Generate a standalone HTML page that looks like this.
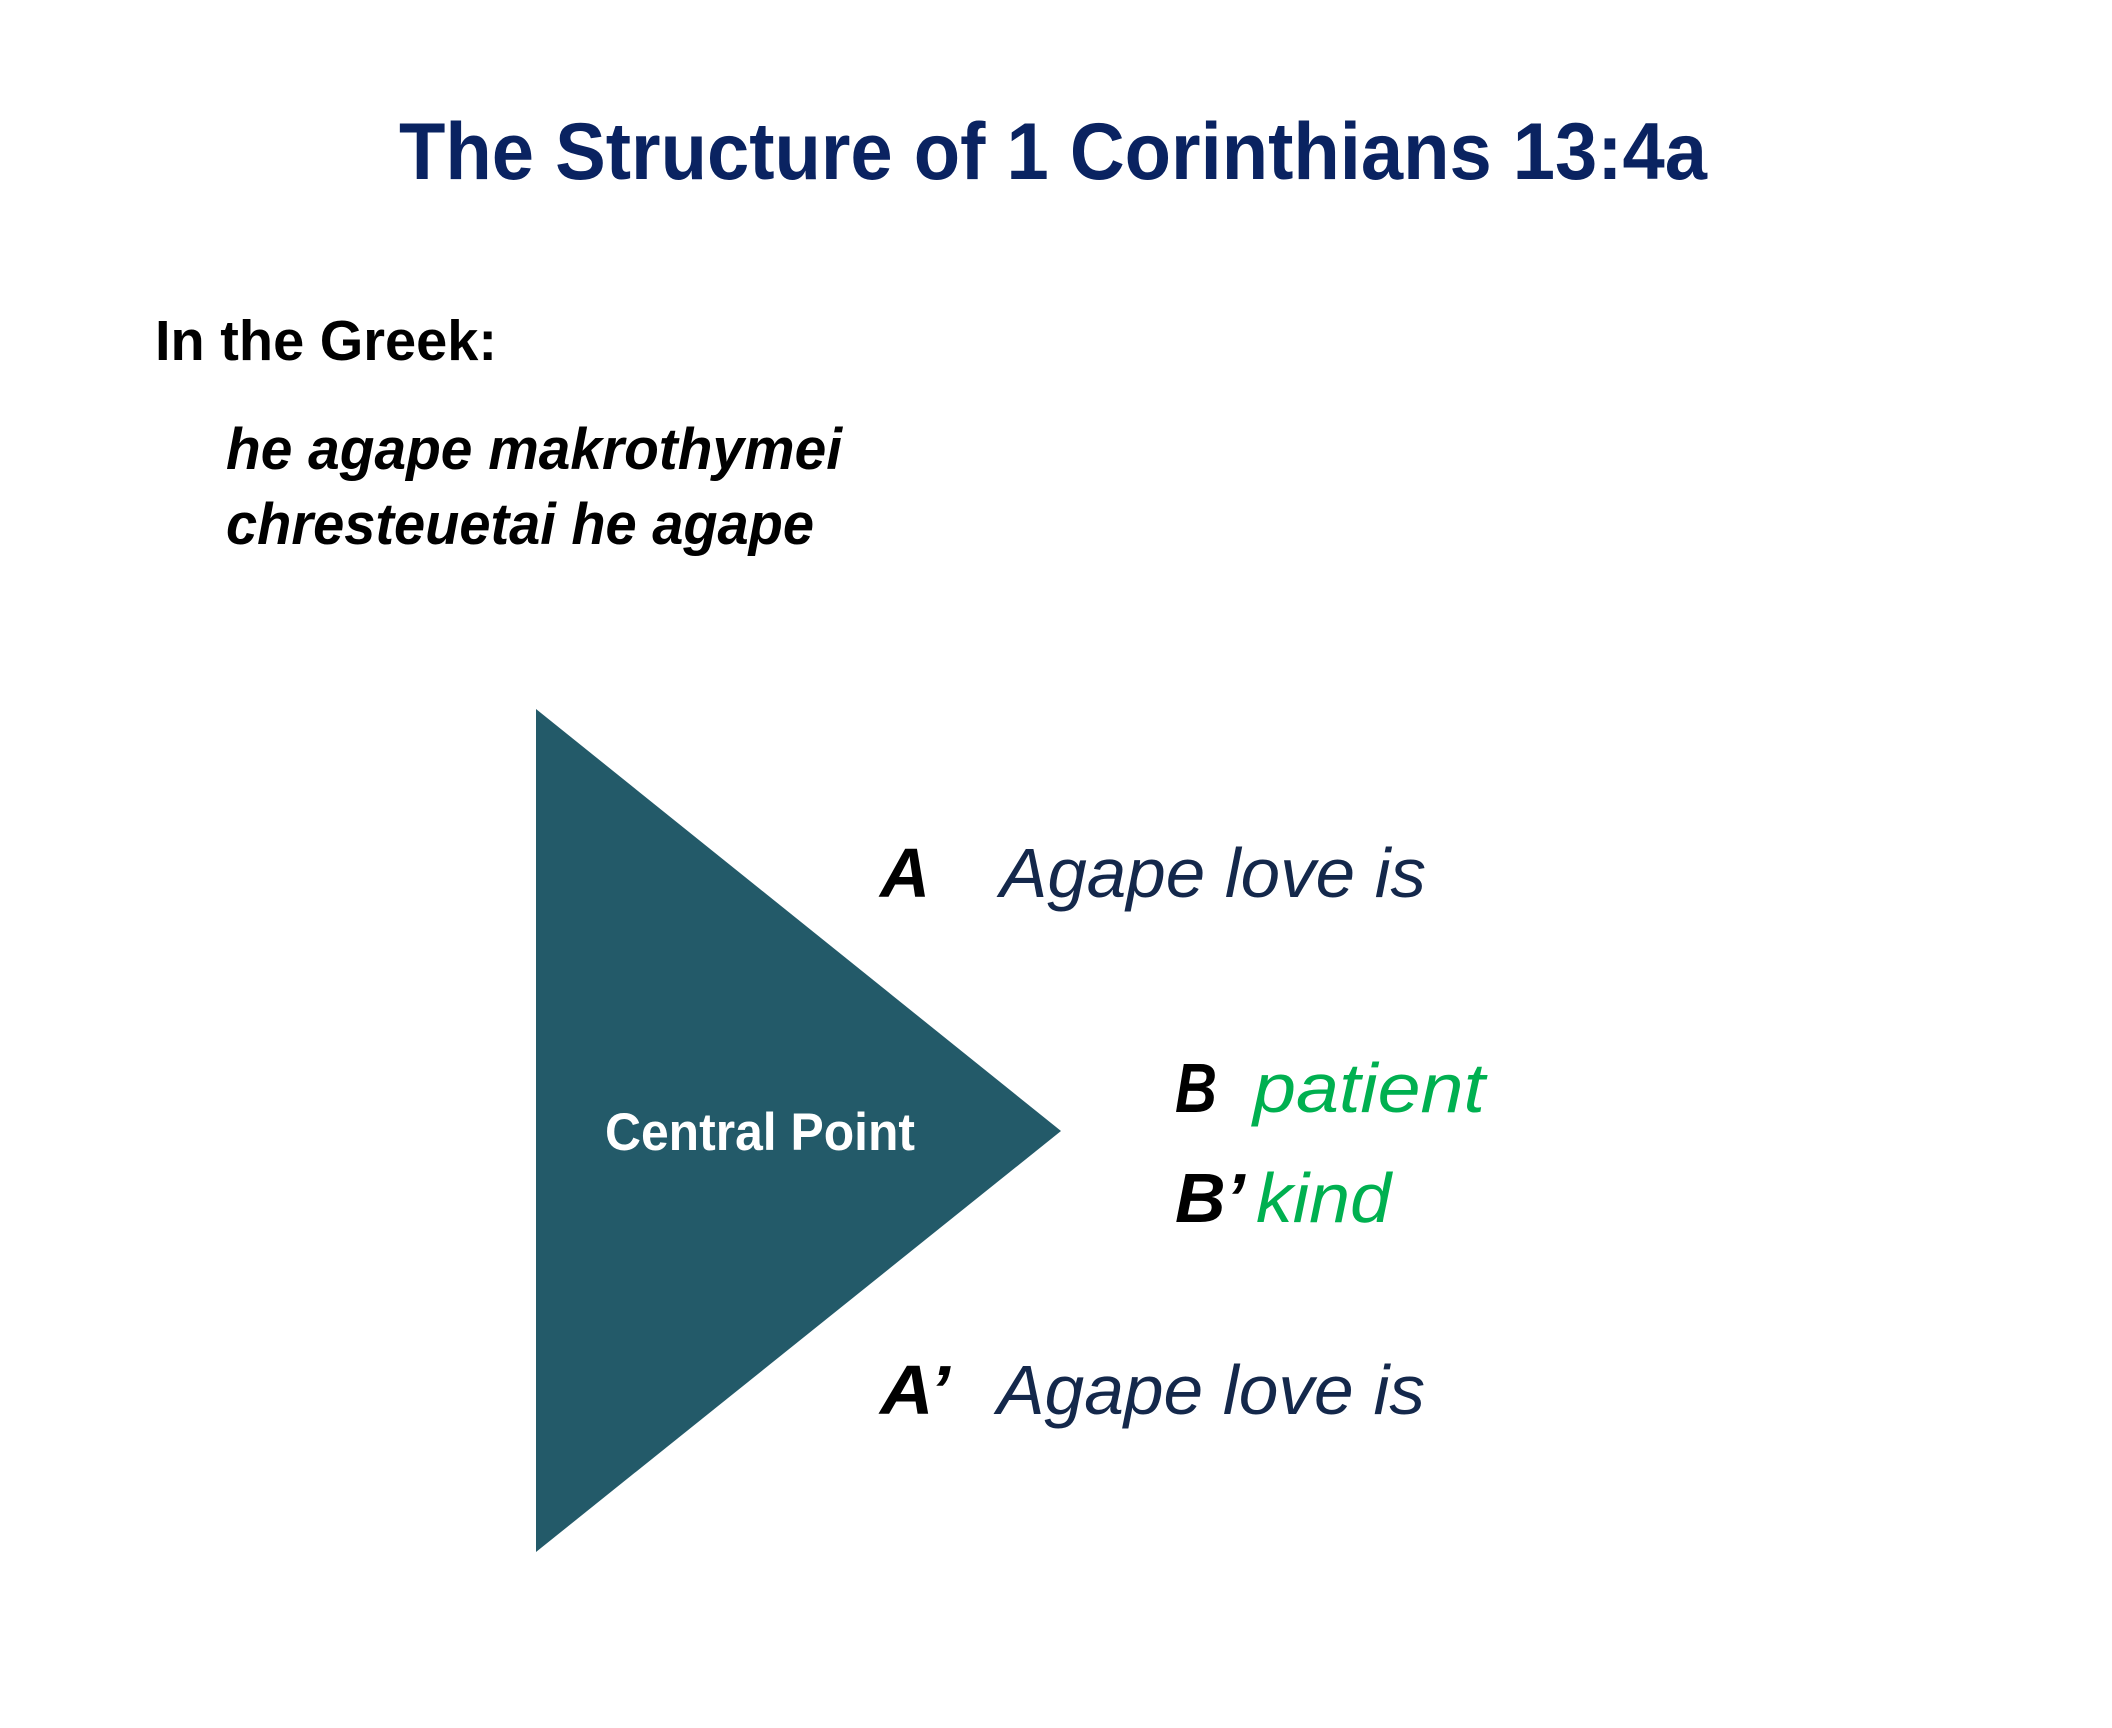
<!DOCTYPE html>
<html>
<head>
<meta charset="utf-8">
<style>
  html, body { margin: 0; padding: 0; background: #ffffff; }
  body { width: 2112px; height: 1728px; overflow: hidden; }
  svg { display: block; }
  text { font-family: "Liberation Sans", "DejaVu Sans", sans-serif; }
</style>
</head>
<body>
<svg width="2112" height="1728" viewBox="0 0 2112 1728" xmlns="http://www.w3.org/2000/svg">
  <rect x="0" y="0" width="2112" height="1728" fill="#ffffff"/>

  <!-- Title -->
  <text x="399" y="179" font-size="81" font-weight="bold" fill="#0A2361" textLength="1308" lengthAdjust="spacingAndGlyphs">The Structure of 1 Corinthians 13:4a</text>

  <!-- In the Greek -->
  <text x="155" y="360" font-size="57" font-weight="bold" fill="#000000" textLength="342" lengthAdjust="spacingAndGlyphs">In the Greek:</text>
  <text x="226" y="469" font-size="58" font-weight="bold" font-style="italic" fill="#000000" textLength="616" lengthAdjust="spacingAndGlyphs">he agape makrothymei</text>
  <text x="226" y="544" font-size="58" font-weight="bold" font-style="italic" fill="#000000" textLength="588" lengthAdjust="spacingAndGlyphs">chresteuetai he agape</text>

  <!-- Triangle -->
  <polygon points="536,709 1061,1131 536,1552" fill="#235A69"/>
  <text x="605" y="1150" font-size="53" font-weight="bold" fill="#ffffff" textLength="310" lengthAdjust="spacingAndGlyphs">Central Point</text>

  <!-- A row -->
  <text x="880" y="897" font-size="70" font-weight="bold" font-style="italic" fill="#000000" textLength="50" lengthAdjust="spacingAndGlyphs">A</text>
  <text x="1000" y="897" font-size="70" font-style="italic" fill="#14284B" textLength="426" lengthAdjust="spacingAndGlyphs">Agape love is</text>

  <!-- B row -->
  <text x="1175" y="1112" font-size="70" font-weight="bold" font-style="italic" fill="#000000" textLength="42" lengthAdjust="spacingAndGlyphs">B</text>
  <text x="1253" y="1112" font-size="70" font-style="italic" fill="#00B050" textLength="232" lengthAdjust="spacingAndGlyphs">patient</text>

  <!-- B' row -->
  <text x="1175" y="1222" font-size="70" font-weight="bold" font-style="italic" fill="#000000" textLength="70" lengthAdjust="spacingAndGlyphs">B’</text>
  <text x="1256" y="1222" font-size="70" font-style="italic" fill="#00B050" textLength="135" lengthAdjust="spacingAndGlyphs">kind</text>

  <!-- A' row -->
  <text x="880" y="1414" font-size="70" font-weight="bold" font-style="italic" fill="#000000" textLength="70" lengthAdjust="spacingAndGlyphs">A’</text>
  <text x="997" y="1414" font-size="70" font-style="italic" fill="#14284B" textLength="428" lengthAdjust="spacingAndGlyphs">Agape love is</text>
</svg>
</body>
</html>
